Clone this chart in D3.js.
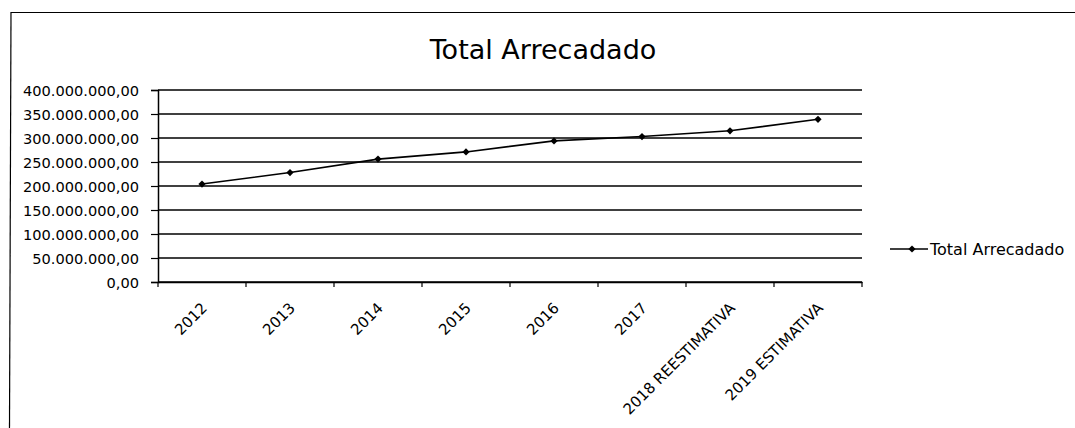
<!DOCTYPE html>
<html>
<head>
<meta charset="utf-8">
<script src="https://cdn.jsdelivr.net/npm/d3@7"></script>
<style>
    body { margin: 0; background: #fff; }
    svg text { font-family: "DejaVu Sans", Verdana, sans-serif; fill: #000; }
</style>
</head>
<body>
<div id="chart"></div>
<script>

// categories on the x axis
const categories = ["2012", "2013", "2014", "2015", "2016", "2017", "2018 REESTIMATIVA", "2019 ESTIMATIVA"];
// Total Arrecadado
const totals = [204000000, 228000000, 256000000, 271000000, 294000000, 303000000, 315000000, 339000000];
// y tick values
const yTicks = [0, 50000000, 100000000, 150000000, 200000000, 250000000, 300000000, 350000000, 400000000];
const seriesName = "Total Arrecadado";
const chartTitle = "Total Arrecadado";

class LineChart {

    constructor(parentElement) {
        this._parentElement = parentElement;
        this.initVis();
    }

    initVis() {
        let vis = this;

        vis.width = 1075;
        vis.height = 428;
        vis.margin = {top: 90, left: 158, right: 1075 - 862, bottom: 428 - 282};

        vis.svg = d3.select("#" + vis._parentElement).append("svg")
            .attr("width", vis.width)
            .attr("height", vis.height);

        // scanned page frame (top + left edge)
        vis.svg.append("line")
            .attr("x1", 11).attr("x2", vis.width)
            .attr("y1", 12.5).attr("y2", 12.5)
            .attr("stroke", "#000").attr("stroke-width", 1.2);
        vis.svg.append("line")
            .attr("x1", 11).attr("x2", 9.5)
            .attr("y1", 12).attr("y2", vis.height)
            .attr("stroke", "#000").attr("stroke-width", 1.2);

        vis.svg.append("text")
            .attr("x", 543)
            .attr("y", 59)
            .attr("text-anchor", "middle")
            .style("font-size", "27px")
            .text(chartTitle);

        let ptBR = d3.formatLocale({decimal: ",", thousands: ".", grouping: [3], currency: ["R$", ""]});
        let fmt = ptBR.format(",.2f");

        vis.x = d3.scaleBand()
            .domain(categories)
            .range([vis.margin.left, vis.width - vis.margin.right]);

        vis.y = d3.scaleLinear()
            .domain([0, 400000000])
            .range([vis.height - vis.margin.bottom, vis.margin.top]);

        // gridlines
        vis.svg.append("g")
            .selectAll("line")
            .data(yTicks)
            .enter()
            .append("line")
            .attr("x1", vis.x.range()[0])
            .attr("x2", vis.x.range()[1])
            .attr("y1", d => vis.y(d))
            .attr("y2", d => vis.y(d))
            .attr("stroke", "#000")
            .attr("stroke-width", 1.3);

        vis.yAxis = d3.axisLeft(vis.y)
            .tickValues(yTicks)
            .tickSize(7)
            .tickPadding(12)
            .tickFormat(fmt);

        vis.svg.append("g")
            .attr("class", "y-axis axis")
            .attr("transform", "translate(" + vis.margin.left + ",0)")
            .call(vis.yAxis)
            .call(g => g.selectAll("text").style("font-size", "14.6px").attr("dy", "0.36em"))
            .call(g => g.select(".domain").attr("stroke-width", 1.5))
            .call(g => g.selectAll(".tick line").attr("stroke-width", 1.2));

        // x axis: Excel style, ticks between categories
        vis.xAxis = d3.axisBottom(vis.x)
            .tickSize(0)
            .tickFormat("");
        let xg = vis.svg.append("g")
            .attr("class", "x-axis axis")
            .attr("transform", "translate(0," + vis.y(0) + ")")
            .call(vis.xAxis);
        xg.select(".domain").attr("stroke-width", 1.5);

        let bounds = categories.map(c => vis.x(c)).concat([vis.x.range()[1]]);
        xg.selectAll(".bound")
            .data(bounds)
            .enter()
            .append("line")
            .attr("class", "bound")
            .attr("x1", d => d).attr("x2", d => d)
            .attr("y1", 0).attr("y2", 5)
            .attr("stroke", "#000")
            .attr("stroke-width", 1.2);

        xg.selectAll(".xlabel")
            .data(categories)
            .enter()
            .append("text")
            .attr("class", "xlabel")
            .attr("text-anchor", "end")
            .attr("transform", d => "translate(" + (vis.x(d) + vis.x.bandwidth() / 2 + 6) + ",27) rotate(-45)")
            .style("font-size", "15px")
            .text(d => d);

        // series line
        vis.data = categories.map((c, i) => ({cat: c, value: totals[i]}));

        vis.line = d3.line()
            .x(d => vis.x(d.cat) + vis.x.bandwidth() / 2)
            .y(d => vis.y(d.value));

        vis.svg.append("path")
            .datum(vis.data)
            .attr("d", vis.line)
            .attr("fill", "none")
            .attr("stroke", "#000")
            .attr("stroke-width", 1.6);

        // rhombus marker: a square turned 45 degrees
        let marker = d3.symbol().type(d3.symbolSquare).size(26);

        vis.svg.selectAll(".marker")
            .data(vis.data)
            .enter()
            .append("path")
            .attr("class", "marker")
            .attr("d", marker)
            .attr("transform", d => "translate(" + (vis.x(d.cat) + vis.x.bandwidth() / 2) + "," + vis.y(d.value) + ") rotate(45)")
            .attr("fill", "#000");

        // legend
        let legend = vis.svg.append("g")
            .attr("transform", "translate(890,249)");
        legend.append("line")
            .attr("x1", 0).attr("x2", 38)
            .attr("y1", 0).attr("y2", 0)
            .attr("stroke", "#000")
            .attr("stroke-width", 1.6);
        legend.append("path")
            .attr("d", marker)
            .attr("transform", "translate(22,0) rotate(45)")
            .attr("fill", "#000");
        legend.append("text")
            .attr("x", 40)
            .attr("y", 6)
            .style("font-size", "16px")
            .text(seriesName);
    }
}

let chart = new LineChart("chart");
</script>
</body>
</html>
